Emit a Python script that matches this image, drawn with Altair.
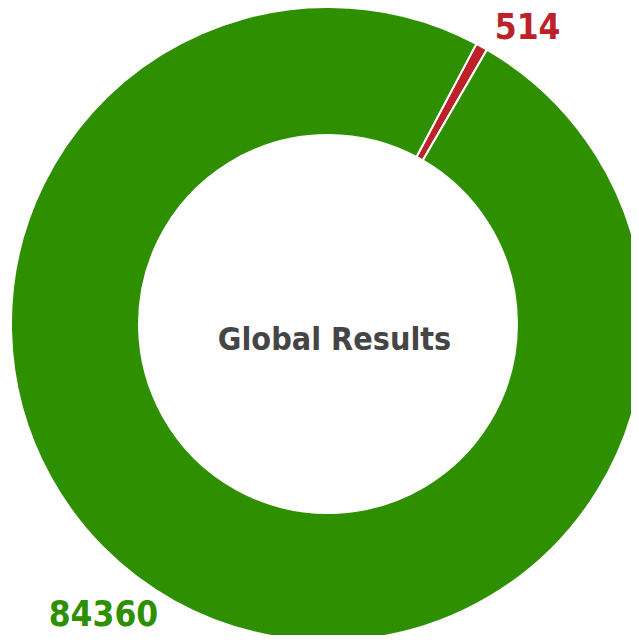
import math
import altair as alt
import pandas as pd

statuses = ["fail", "pass"]
counts = [514, 84360]
labels = ["514", "84360"]
order = [0, 1]
colors = ["#bd2129", "#2e8f00"]

df = pd.DataFrame({"status": statuses, "count": counts, "label": labels, "ord": order})

start = math.radians(27.9)
theta_scale = alt.Scale(range=[start, start + 2 * math.pi])
color_scale = alt.Scale(domain=statuses, range=colors)
FONT = "Liberation Sans Narrow, DejaVu Sans Condensed, sans-serif"

CX, CY = 320, 316

base = alt.Chart(df).encode(
    theta=alt.Theta("count:Q", stack=True, scale=theta_scale),
    order=alt.Order("ord:Q"),
    color=alt.Color("status:N", scale=color_scale, legend=None),
    x=alt.value(CX),
    y=alt.value(CY),
)

arcs = base.mark_arc(outerRadius=317, innerRadius=189, stroke="white", strokeWidth=2)

red_label = base.transform_calculate(
    txt="datum.status == 'fail' ? datum.label : ''"
).mark_text(radius=340, align="left", baseline="middle", dx=2, dy=1,
            font=FONT, fontSize=35, fontWeight="bold").encode(text="txt:N")

green_label = base.transform_calculate(
    txt="datum.status == 'pass' ? datum.label : ''"
).mark_text(radius=340, align="right", baseline="middle", dx=-5, dy=-6,
            font=FONT, fontSize=35, fontWeight="bold").encode(text="txt:N")

center_title = alt.Chart(pd.DataFrame({"t": ["Global Results"]})).mark_text(
    font=FONT, fontSize=32, fontWeight="bold", color="#454545",
    align="center", baseline="alphabetic"
).encode(text="t:N", x=alt.value(326.5), y=alt.value(342))

chart = alt.layer(arcs, red_label, green_label, center_title).properties(
    width=623, height=627, padding=0, autosize="none"
).configure_view(stroke=None)

chart.save("out.html", embed_options={"renderer": "svg", "actions": False})
